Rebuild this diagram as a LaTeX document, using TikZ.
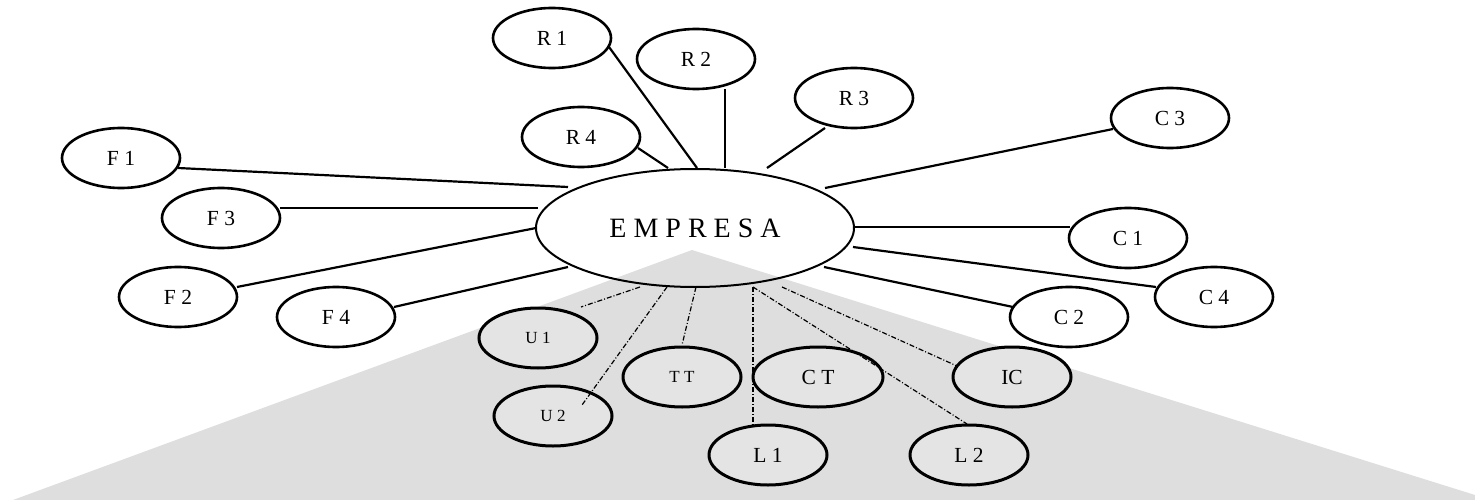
\documentclass[tikz,border=0pt]{standalone}
\usepackage{fontspec}
\setmainfont{Liberation Serif}
\usetikzlibrary{shapes.geometric,calc}
\definecolor{polygray}{HTML}{DEDEDE}
\definecolor{nodegray}{HTML}{E4E4E4}
\tikzset{
  base/.style={ellipse,draw=black,inner sep=0pt,minimum width=118pt,minimum height=60pt,
    font=\fontsize{21.5}{24}\selectfont},
  wnode/.style={base,line width=2.6pt,fill=white},
  gnode/.style={base,line width=3pt,fill=nodegray},
  gsmall/.style={gnode,font=\fontsize{17}{19}\selectfont},
  centre/.style={ellipse,draw=black,line width=2pt,inner sep=0pt,minimum width=318pt,
    minimum height=118pt,font=\fontsize{28}{30}\selectfont},
  link/.style={line width=2.2pt},
  dlink/.style={line width=1.2pt,dash pattern=on 5pt off 2pt on 1pt off 2pt}
}
\begin{document}
\begin{tikzpicture}[x=1pt,y=-1pt]
\useasboundingbox (0,0) rectangle (1475,500);
\fill[polygray] (13,500) -- (692,250) -- (1475,495) -- (1475,500) -- cycle;
% central
\node[centre] (E) at (695,228) {E M P R E S A};
% R nodes
\node[wnode] (R1) at (552,38) {R 1};
\node[wnode] (R2) at (696,59) {R 2};
\node[wnode] (R3) at (854,98) {R 3};
\node[wnode] (R4) at (581,137) {R 4};
% F nodes
\node[wnode] (F1) at (121,158) {F 1};
\node[wnode] (F3) at (221,218) {F 3};
\node[wnode] (F2) at (178,297) {F 2};
\node[wnode] (F4) at (336,317) {F 4};
% C nodes
\node[wnode] (C3) at (1170,118) {C 3};
\node[wnode] (C1) at (1128,238) {C 1};
\node[wnode] (C4) at (1214,297) {C 4};
\node[wnode] (C2) at (1069,317) {C 2};
% gray nodes
\node[gsmall] (U1) at (538,338) {U 1};
\node[gsmall] (U2) at (553,416) {U 2};
\node[gsmall] (TT) at (682,377) {T T};
\node[gnode,minimum width=130pt] (CT) at (818,377) {C T};
\node[gnode] (L1) at (768,455) {L 1};
\node[gnode] (L2) at (969,455) {L 2};
\node[gnode] (IC) at (1012,377) {IC};
% solid links
\draw[link] ($(R1)+(57,9)$) -- ($(E)+(2,-60)$);
\draw[link] ($(R2)+(29,30)$) -- ($(E)+(30,-60)$);
\draw[link] ($(R3)+(-29,30)$) -- ($(E)+(72,-60)$);
\draw[link] ($(R4)+(57,11)$) -- ($(E)+(-27,-60)$);
\draw[link] ($(F1)+(57,10)$) -- ($(E)+(-127,-41)$);
\draw[link] ($(F3)+(59,-10)$) -- ($(E)+(-157,-20)$);
\draw[link] ($(F2)+(59,-10)$) -- ($(E)+(-159,0)$);
\draw[link] ($(F4)+(58,-10)$) -- ($(E)+(-127,39)$);
\draw[link] ($(C3)+(-57,11)$) -- ($(E)+(130,-40)$);
\draw[link] ($(C1)+(-58,-11)$) -- ($(E)+(158,-1)$);
\draw[link] ($(C4)+(-58,-10)$) -- ($(E)+(158,19)$);
\draw[link] ($(C2)+(-56,-10)$) -- ($(E)+(129,39)$);
% dash-dot links
\draw[dlink] ($(E)+(-55,59)$) -- ($(U1)+(43,-31)$);
\draw[dlink] ($(E)+(-28,59)$) -- ($(U2)+(29,-11)$);
\draw[dlink] ($(E)+(1,59)$) -- ($(TT)+(0,-32)$);
\draw[dlink] ($(E)+(58,59)$) -- ($(L1)+(-15,-30)$);
\draw[dlink] ($(E)+(58,59)$) -- ($(L2)+(-2,-31)$);
\draw[dlink] ($(E)+(87,59)$) -- ($(IC)+(-55,-11)$);
\end{tikzpicture}
\end{document}
